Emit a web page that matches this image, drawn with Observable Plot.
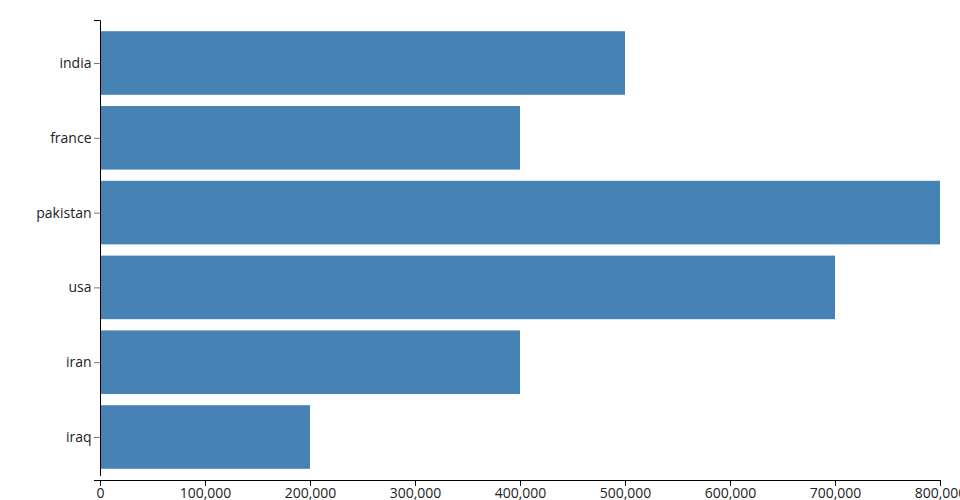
<!DOCTYPE html>
<html>
<head>
<meta charset="utf-8">
<script src="https://cdn.jsdelivr.net/npm/d3@7"></script>
<script src="https://cdn.jsdelivr.net/npm/@observablehq/plot@0.6"></script>
<style>
  body { margin: 0; background: #fff; }
  #chart svg { display: block; }
</style>
</head>
<body>
<div id="chart"></div>
<script>
const categories = ["india", "france", "pakistan", "usa", "iran", "iraq"];
const values = [500000, 400000, 800000, 700000, 400000, 200000];
const xTicks = [0, 100000, 200000, 300000, 400000, 500000, 600000, 700000, 800000];

const data = categories.map((name, i) => ({name, value: values[i]}));

const plot = Plot.plot({
  width: 960,
  height: 500,
  marginLeft: 100,
  marginRight: 20,
  marginTop: 20,
  marginBottom: 20,
  style: {fontFamily: "Open Sans", fontSize: "14px", background: "#fff", overflow: "visible"},
  x: {domain: [0, 800000]},
  y: {domain: categories, padding: 0.15, round: false},
  marks: [
    Plot.barX(data, {x: "value", y: "name", fill: "steelblue"}),
    Plot.axisY({tickSize: 6, tickPadding: 3, stroke: "#777", fill: "#222", label: null}),
    Plot.axisX({ticks: xTicks, tickSize: 6, tickPadding: 2, tickFormat: d3.format(","), stroke: "#000", fill: "#222", label: null})
  ]
});

document.getElementById("chart").appendChild(plot);

// axis domain lines (d3-style), positioned from the plot's own scales
const xs = plot.scale("x"), ys = plot.scale("y");
const svg = d3.select(plot);
const x0 = xs.range[0], x1 = xs.range[1];
const y0 = ys.range[0], y1 = ys.range[1];
svg.append("path")
  .attr("d", `M${x0 - 6},${y0 + 0.5}H${x0 + 0.5}V${y1 - 4}`)
  .attr("fill", "none").attr("stroke", "#000");
svg.append("path")
  .attr("d", `M${x0 - 6},${y1 + 0.5}H${x1 + 0.5}V${y1 + 6}`)
  .attr("fill", "none").attr("stroke", "#000");
</script>
</body>
</html>
